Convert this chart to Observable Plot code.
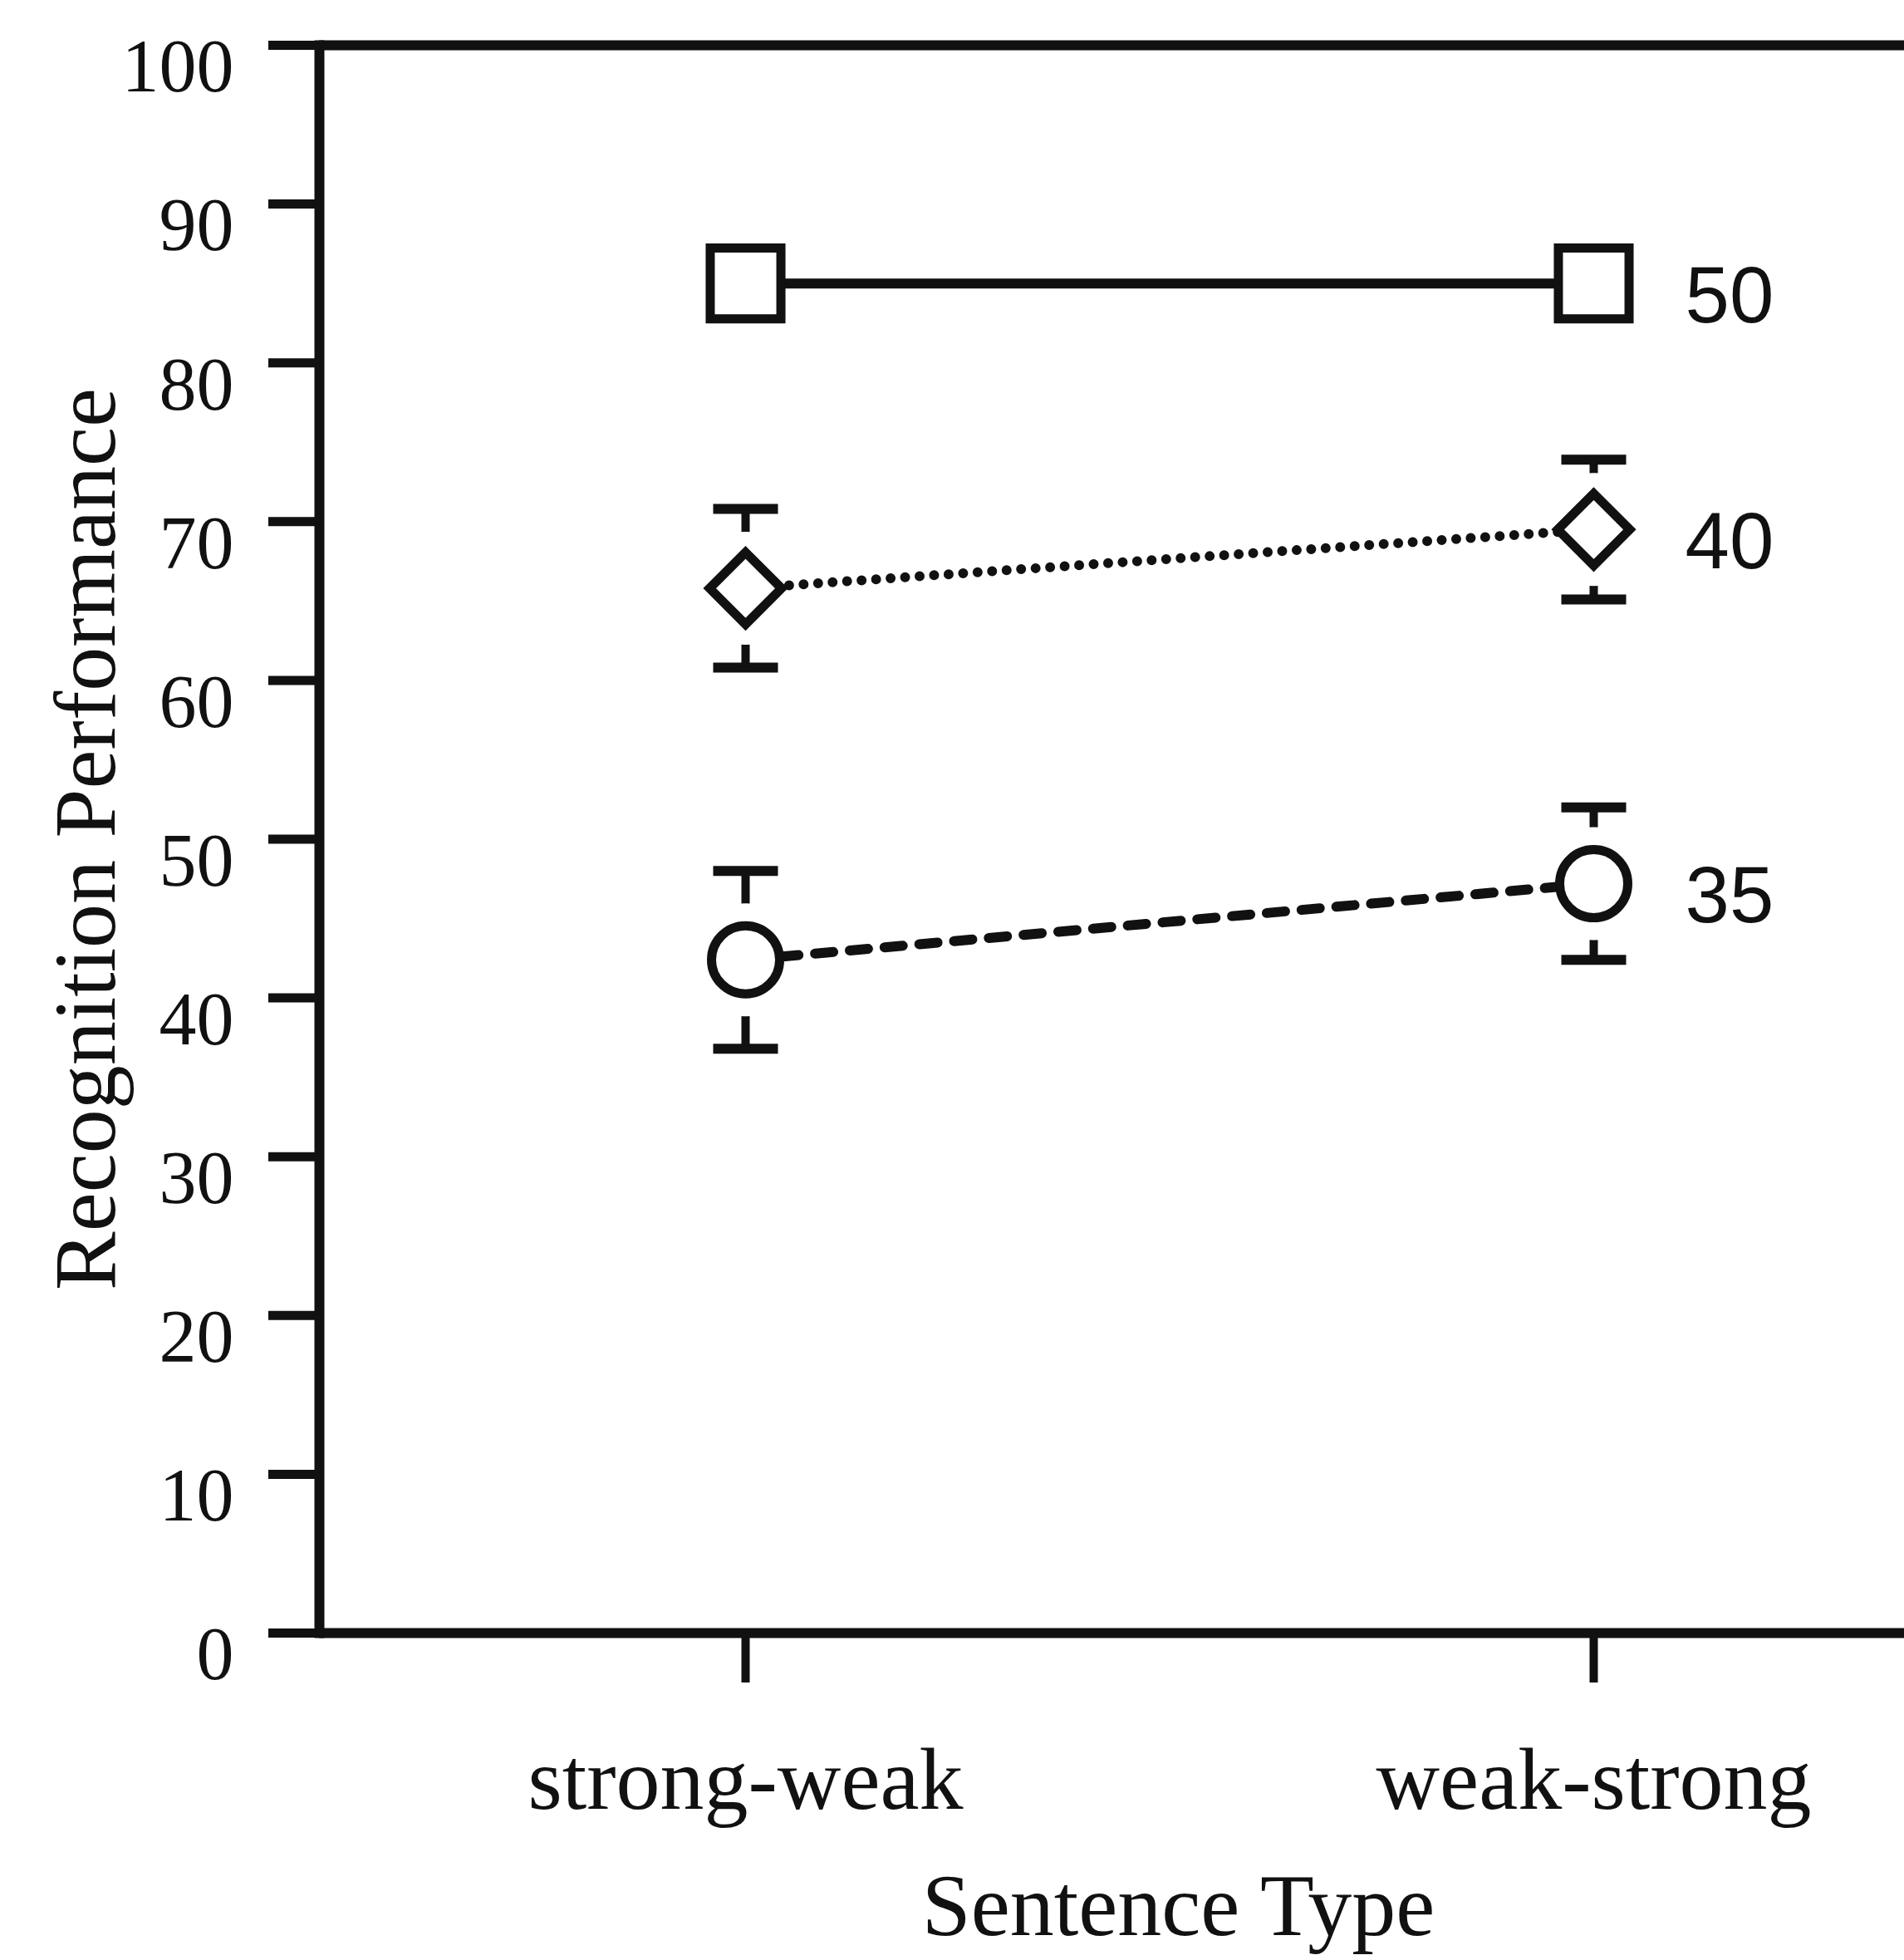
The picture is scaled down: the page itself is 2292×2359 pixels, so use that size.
<!DOCTYPE html>
<html>
<head>
<meta charset="utf-8">
<script src="https://cdn.jsdelivr.net/npm/d3@7"></script>
<script src="https://cdn.jsdelivr.net/npm/@observablehq/plot@0.6"></script>
<style>
  html, body { margin: 0; padding: 0; background: #ffffff; }
  #chart svg { display: block; }
</style>
</head>
<body>
<div id="chart"></div>
<script>
// ---- data ----
const types = ["strong-weak", "weak-strong"];
const seriesNames = ["50", "40", "35"];
const mean50 = [85.0, 85.0];
const mean40 = [65.8, 69.5];
const mean35 = [42.4, 47.2];
const err50 = [null, null];
const err40 = [5.0, 4.4];
const err35 = [5.6, 4.8];
const yTicks = [0, 10, 20, 30, 40, 50, 60, 70, 80, 90, 100];

const means = [mean50, mean40, mean35];
const errs = [err50, err40, err35];
const rows = [];
seriesNames.forEach((s, i) => types.forEach((t, j) => rows.push({
  series: s, type: t, value: means[i][j],
  low: errs[i][j] == null ? null : means[i][j] - errs[i][j],
  high: errs[i][j] == null ? null : means[i][j] + errs[i][j]
})));
const withErr = rows.filter(d => d.low != null);
const bySeries = s => rows.filter(d => d.series === s);
const lastPoints = rows.filter(d => d.type === types[types.length - 1]);

// horizontal cap symbol for error bars
const capSymbol = {
  draw(ctx, size) {
    const h = Math.sqrt(size / Math.PI);
    ctx.moveTo(-h, 0);
    ctx.lineTo(h, 0);
  }
};

const black = "#111";
const chart = Plot.plot({
  width: 2292,
  height: 2359,
  marginTop: 54,
  marginBottom: 394,
  marginLeft: 384,
  marginRight: 0,
  style: { fontFamily: "'Liberation Serif', 'Times New Roman', serif", background: "#ffffff", color: black },
  x: { type: "point", domain: types, range: [897, 1918], padding: 0 },
  y: { domain: [0, 100] },
  marks: [
    // frame lines
    Plot.frame({ anchor: "left", stroke: black, strokeWidth: 12 }),
    Plot.ruleY([0, 100], { stroke: black, strokeWidth: 12 }),
    // y axis ticks and labels
    Plot.axisY(yTicks, { anchor: "left", tickSize: 61, stroke: black, strokeWidth: 11, fill: "none", label: null }),
    Plot.axisY(yTicks, { anchor: "left", tickSize: 0, tickPadding: 103, fontSize: 90, dy: 27, fill: black, label: null }),
    // x axis ticks and labels
    Plot.axisX(types, { anchor: "bottom", tickSize: 60, stroke: black, strokeWidth: 10, fill: "none", label: null }),
    Plot.axisX(types, { anchor: "bottom", tickSize: 0, tickPadding: 136, fontSize: 106, fill: black, label: null }),
    // axis titles
    Plot.text(["Recognition Performance"], { frameAnchor: "left", rotate: -90, dx: -247, textAnchor: "middle", lineAnchor: "bottom", fontSize: 106, fill: black }),
    Plot.text(["Sentence Type"], { frameAnchor: "bottom", dx: 80, dy: 363, lineAnchor: "bottom", fontSize: 106, fill: black }),
    // error bars
    Plot.ruleX(withErr, { x: "type", y1: "low", y2: "high", stroke: black, strokeWidth: 10 }),
    Plot.dot(withErr, { x: "type", y: "high", symbol: capSymbol, r: 39, fill: "none", stroke: black, strokeWidth: 12 }),
    Plot.dot(withErr, { x: "type", y: "low", symbol: capSymbol, r: 39, fill: "none", stroke: black, strokeWidth: 12 }),
    // white knock-out around markers
    Plot.dot(withErr, { x: "type", y: "value", r: 68, fill: "#ffffff", stroke: "none" }),
    // connecting lines
    Plot.line(bySeries("50"), { x: "type", y: "value", stroke: black, strokeWidth: 12 }),
    Plot.line(bySeries("40"), { x: "type", y: "value", stroke: black, strokeWidth: 12, strokeDasharray: "0 17.5", strokeLinecap: "round" }),
    Plot.line(bySeries("35"), { x: "type", y: "value", stroke: black, strokeWidth: 12, strokeDasharray: "22 20" }),
    // markers
    Plot.dot(bySeries("50"), { x: "type", y: "value", symbol: "square", r: 48, fill: "#ffffff", stroke: black, strokeWidth: 11 }),
    Plot.dot(bySeries("40"), { x: "type", y: "value", symbol: "diamond2", r: 39, fill: "#ffffff", stroke: black, strokeWidth: 11 }),
    Plot.dot(bySeries("35"), { x: "type", y: "value", symbol: "circle", r: 41, fill: "#ffffff", stroke: black, strokeWidth: 11 }),
    // series labels
    Plot.text(lastPoints, { x: "type", y: "value", text: "series", dx: 110, dy: 16, textAnchor: "start", fontSize: 96, fill: black, fontFamily: "'Liberation Sans Narrow', 'Liberation Sans', sans-serif" })
  ]
});
document.getElementById("chart").appendChild(chart);
</script>
</body>
</html>
